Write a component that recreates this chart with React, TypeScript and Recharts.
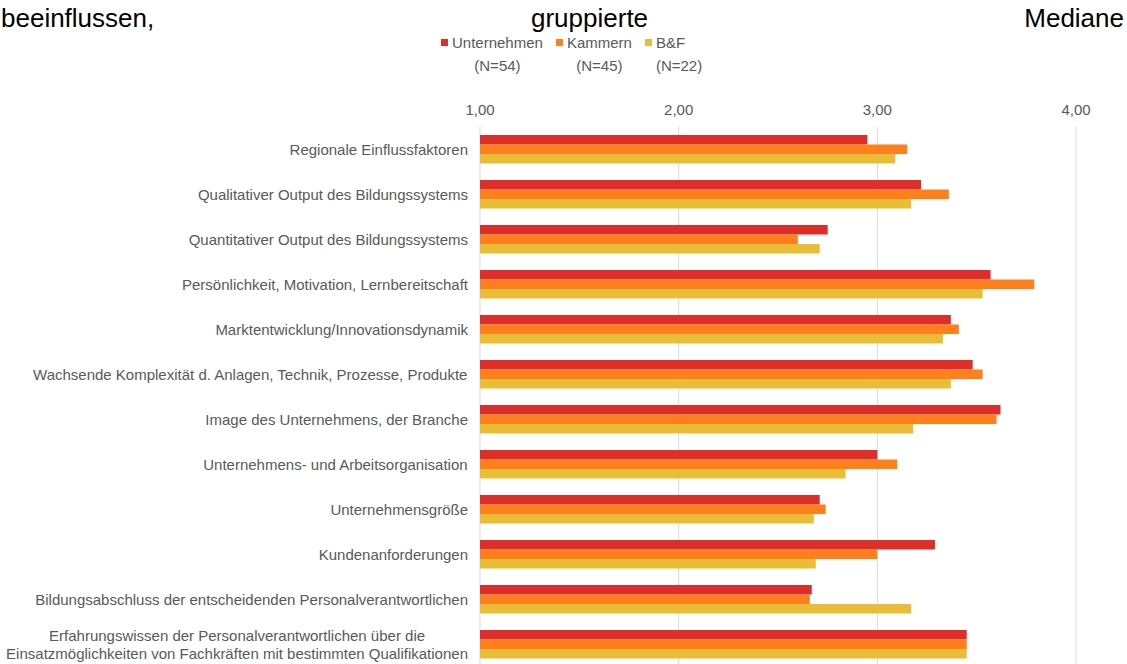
import { BarChart, Bar, XAxis, YAxis, CartesianGrid } from "recharts";

const categories = [
  "Regionale Einflussfaktoren",
  "Qualitativer Output des Bildungssystems",
  "Quantitativer Output des Bildungssystems",
  "Persönlichkeit, Motivation, Lernbereitschaft",
  "Marktentwicklung/Innovationsdynamik",
  "Wachsende Komplexität d. Anlagen, Technik, Prozesse, Produkte",
  "Image des Unternehmens, der Branche",
  "Unternehmens- und Arbeitsorganisation",
  "Unternehmensgröße",
  "Kundenanforderungen",
  "Bildungsabschluss der entscheidenden Personalverantwortlichen",
  "Erfahrungswissen der Personalverantwortlichen über die\nEinsatzmöglichkeiten von Fachkräften mit bestimmten Qualifikationen",
];

const unternehmen = [2.95, 3.22, 2.75, 3.57, 3.37, 3.48, 3.62, 3.0, 2.71, 3.29, 2.67, 3.45];
const kammern = [3.15, 3.36, 2.6, 3.79, 3.41, 3.53, 3.6, 3.1, 2.74, 3.0, 2.66, 3.45];
const bf = [3.09, 3.17, 2.71, 3.53, 3.33, 3.37, 3.18, 2.84, 2.68, 2.69, 3.17, 3.45];

const seriesKeys = ["unternehmen", "kammern", "bf"];
const seriesNames = ["Unternehmen", "Kammern", "B&F"];
const seriesN = ["(N=54)", "(N=45)", "(N=22)"];
const seriesColors = ["#df2d29", "#ff7f1d", "#e9bd38"];

const xTicks = [1, 2, 3, 4];

const data = categories.map((name, i) => ({
  name,
  unternehmen: unternehmen[i],
  kammern: kammern[i],
  bf: bf[i],
}));

const FONT = '"Liberation Sans", Arial, sans-serif';
const GREY = "#595959";

let measureCtx: CanvasRenderingContext2D | null = null;
function textWidth(s: string) {
  if (!measureCtx) measureCtx = document.createElement("canvas").getContext("2d");
  if (!measureCtx) return s.length * 7;
  measureCtx.font = `15px ${FONT}`;
  return measureCtx.measureText(s).width;
}

// Excel-style category label: right edge at the axis, multi-line labels centred on each other
function CategoryTick(props: any) {
  const { x, y, payload } = props;
  const lines = String(payload.value).split("\n");
  const w = Math.max(...lines.map(textWidth));
  const cx = x - w / 2;
  const lh = 18.5;
  const y0 = y - ((lines.length - 1) * lh) / 2;
  return (
    <text fill={GREY} fontSize={15} fontFamily={FONT} textAnchor="middle">
      {lines.map((l, i) => (
        <tspan key={i} x={cx} y={y0 + i * lh} dy="0.38em">
          {l}
        </tspan>
      ))}
    </text>
  );
}

export default function App() {
  return (
    <div
      style={{
        position: "absolute",
        left: 0,
        top: 0,
        width: 1127,
        height: 664,
        overflow: "hidden",
        background: "#fff",
        fontFamily: FONT,
      }}
    >
      <div style={{ position: "absolute", top: 3, left: 0, width: 1127, height: 30, fontSize: 26, lineHeight: "30px", color: "#000" }}>
        <span style={{ position: "absolute", left: 1 }}>beeinflussen,</span>
        <span style={{ position: "absolute", left: 531 }}>gruppierte</span>
        <span style={{ position: "absolute", right: 3 }}>Mediane</span>
      </div>

      <div style={{ position: "absolute", top: 34, left: 441, display: "flex", gap: 13, fontSize: 15, color: GREY }}>
        {seriesNames.map((n, i) => (
          <div key={n} style={{ display: "flex", flexDirection: "column" }}>
            <div style={{ display: "flex", alignItems: "center", lineHeight: "18px" }}>
              <span style={{ width: 7, height: 7, background: seriesColors[i], marginRight: 4, marginTop: -1 }} />
              <span>{n}</span>
            </div>
            <div style={{ paddingLeft: 11, textAlign: "center", lineHeight: "18px", marginTop: 5 }}>{seriesN[i]}</div>
          </div>
        ))}
      </div>

      <div style={{ position: "absolute", left: 0, top: 0 }}>
        <BarChart
          width={1127}
          height={680}
          data={data}
          layout="vertical"
          margin={{ top: 97, right: 51, left: 0, bottom: 13 }}
          barGap={0}
          barSize={9.5}
        >
          <CartesianGrid horizontal={false} stroke="#d9d9d9" />
          <XAxis
            type="number"
            orientation="top"
            domain={[1, 4]}
            ticks={xTicks}
            height={30}
            axisLine={false}
            tickLine={false}
            tickSize={6}
            tickMargin={6}
            tick={{ fill: GREY, fontSize: 15, fontFamily: FONT }}
            tickFormatter={(v: number) => v.toFixed(2).replace(".", ",")}
          />
          <YAxis
            type="category"
            dataKey="name"
            width={480}
            interval={0}
            axisLine={false}
            tickLine={false}
            tickSize={6}
            tickMargin={6}
            tick={<CategoryTick />}
          />
          {seriesKeys.map((k, i) => (
            <Bar key={k} dataKey={k} name={seriesNames[i]} fill={seriesColors[i]} isAnimationActive={false} />
          ))}
        </BarChart>
      </div>
    </div>
  );
}
